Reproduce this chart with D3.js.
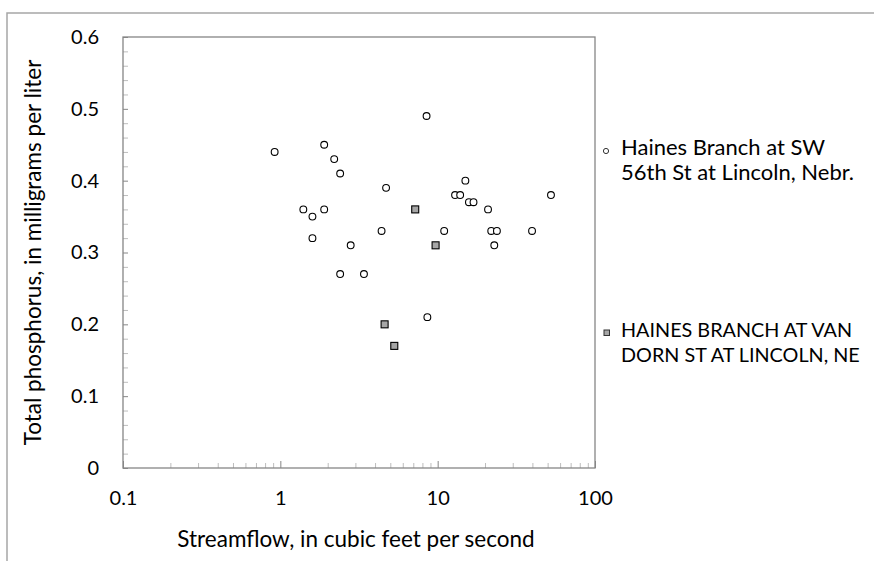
<!DOCTYPE html>
<html lang="en">
    <head>
        <meta charset="utf-8">
        <title>Total phosphorus vs streamflow, Haines Branch</title>
        <script type="text/javascript" src="https://d3js.org/d3.v7.min.js"></script>
        <style type="text/css">
            body { margin: 0; background: #fff; }
            text { font-family: Lato, "Open Sans", sans-serif; fill: #000; }
        </style>
    </head>
    <body>
        <script>

        // Haines Branch at SW 56th St at Lincoln, Nebr. (streamflow cfs, phosphorus mg/L)
        var sw56Flow = [0.92, 1.9, 2.2, 2.4, 4.7, 1.4, 1.9, 1.6, 1.6, 2.8, 2.4, 3.4, 4.4,
                        8.6, 8.5, 11, 12.9, 13.9, 15, 15.8, 16.9, 20.9, 21.9, 23.8, 22.9, 39.8, 52.5];
        var sw56Phos = [0.44, 0.45, 0.43, 0.41, 0.39, 0.36, 0.36, 0.35, 0.32, 0.31, 0.27, 0.27, 0.33,
                        0.21, 0.49, 0.33, 0.38, 0.38, 0.40, 0.37, 0.37, 0.36, 0.33, 0.33, 0.31, 0.33, 0.38];

        // Haines Branch at Van Dorn St at Lincoln, NE
        var vanDornFlow = [7.2, 9.7, 4.6, 5.3];
        var vanDornPhos = [0.36, 0.31, 0.20, 0.17];

        var xTicks = [0.1, 1, 10, 100];
        var yTicks = [0, 0.1, 0.2, 0.3, 0.4, 0.5, 0.6];

        var legendLines = [
            ["Haines Branch at SW", "56th St at Lincoln, Nebr."],
            ["HAINES BRANCH AT VAN", "DORN ST AT LINCOLN, NE"]
        ];

        var w = 874, h = 561;
        // plot area edges (note: "top" is reserved on window, so use pTop etc.)
        var pLeft = 123, pRight = 595, pTop = 37, pBottom = 468;

        var svg = d3.select("body").append("svg")
                    .attr("width", w)
                    .attr("height", h);

        // outer frame lines (top and left only, as in the picture)
        svg.append("path")
           .attr("d", "M7," + h + "V13H" + w)
           .attr("fill", "none")
           .attr("stroke", "#a6a6a6")
           .attr("stroke-width", 1.5);

        var x = d3.scaleLog().domain([0.1, 100]).range([pLeft, pRight]);
        var y = d3.scaleLinear().domain([0, 0.6]).range([pBottom, pTop]);

        // minor ticks, drawn inside the plot
        var yMinor = d3.range(0, 0.6001, 0.02).filter(function(v){ return Math.abs(v*10 - Math.round(v*10)) > 1e-6; });
        var xMinor = [];
        [0.1, 1, 10].forEach(function(d){ for (var k = 2; k <= 9; k++) xMinor.push(d*k); });

        svg.append("g")
           .attr("transform", "translate(" + pLeft + ",0)")
           .call(d3.axisLeft(y).tickValues(yMinor).tickSize(-5).tickFormat(""))
           .call(function(g){ g.select(".domain").remove(); g.selectAll("line").attr("stroke", "#bdbdbd"); });

        svg.append("g")
           .attr("transform", "translate(0," + pBottom + ")")
           .call(d3.axisBottom(x).tickValues(xMinor).tickSize(-5).tickFormat(""))
           .call(function(g){ g.select(".domain").remove(); g.selectAll("line").attr("stroke", "#bdbdbd"); });

        // major ticks and labels
        var yAxis = svg.append("g")
           .attr("transform", "translate(" + pLeft + ",0)")
           .call(d3.axisLeft(y).tickValues(yTicks).tickSize(-5).tickPadding(24).tickFormat(d3.format("")));
        yAxis.select(".domain").remove();
        yAxis.selectAll("line").attr("stroke", "#868686");
        yAxis.selectAll("text").style("font-size", "20px").attr("fill", "#000");

        var xAxis = svg.append("g")
           .attr("transform", "translate(0," + pBottom + ")")
           .call(d3.axisBottom(x).tickValues(xTicks).tickSize(-7).tickPadding(23).tickFormat(d3.format("")));
        xAxis.select(".domain").remove();
        xAxis.selectAll("line").attr("stroke", "#868686");
        xAxis.selectAll("text").style("font-size", "20px").attr("fill", "#000");

        // plot box
        svg.append("rect")
           .attr("x", pLeft).attr("y", pTop)
           .attr("width", pRight - pLeft).attr("height", pBottom - pTop)
           .attr("fill", "none")
           .attr("stroke", "#868686")
           .attr("stroke-width", 1.3);

        // axis titles
        svg.append("text")
           .attr("x", (pLeft + pRight) / 2 - 3)
           .attr("y", 547)
           .attr("text-anchor", "middle")
           .style("font-size", "22.5px")
           .text("Streamflow, in cubic feet per second");

        svg.append("text")
           .attr("transform", "translate(41," + ((pTop + pBottom) / 2) + ") rotate(-90)")
           .attr("text-anchor", "middle")
           .style("font-size", "22.5px")
           .text("Total phosphorus, in milligrams per liter");

        // points
        svg.append("g").selectAll("circle")
           .data(sw56Flow)
           .enter()
           .append("circle")
           .attr("cx", function(d){ return x(d); })
           .attr("cy", function(d, i){ return y(sw56Phos[i]); })
           .attr("r", 3.4)
           .attr("fill", "#fff")
           .attr("stroke", "#000")
           .attr("stroke-width", 1.1);

        svg.append("g").selectAll("rect")
           .data(vanDornFlow)
           .enter()
           .append("rect")
           .attr("x", function(d){ return x(d) - 3.5; })
           .attr("y", function(d, i){ return y(vanDornPhos[i]) - 3.5; })
           .attr("width", 7)
           .attr("height", 7)
           .attr("fill", "#a6a6a6")
           .attr("stroke", "#000")
           .attr("stroke-width", 1.1);

        // legend
        var leg = svg.append("g");
        leg.append("circle")
           .attr("cx", 606).attr("cy", 151)
           .attr("r", 2.6)
           .attr("fill", "#fff").attr("stroke", "#333").attr("stroke-width", 1);
        leg.append("rect")
           .attr("x", 604).attr("y", 330)
           .attr("width", 5.5).attr("height", 5.5)
           .attr("fill", "#a6a6a6").attr("stroke", "#333").attr("stroke-width", 1);

        var legY = [155, 337];
        var legSize = ["22px", "19.8px"];
        legendLines.forEach(function(lines, j){
            lines.forEach(function(t, k){
                leg.append("text")
                   .attr("x", 621)
                   .attr("y", legY[j] + k*25)
                   .style("font-size", legSize[j])
                   .text(t);
            });
        });

        </script>
    </body>
</html>
